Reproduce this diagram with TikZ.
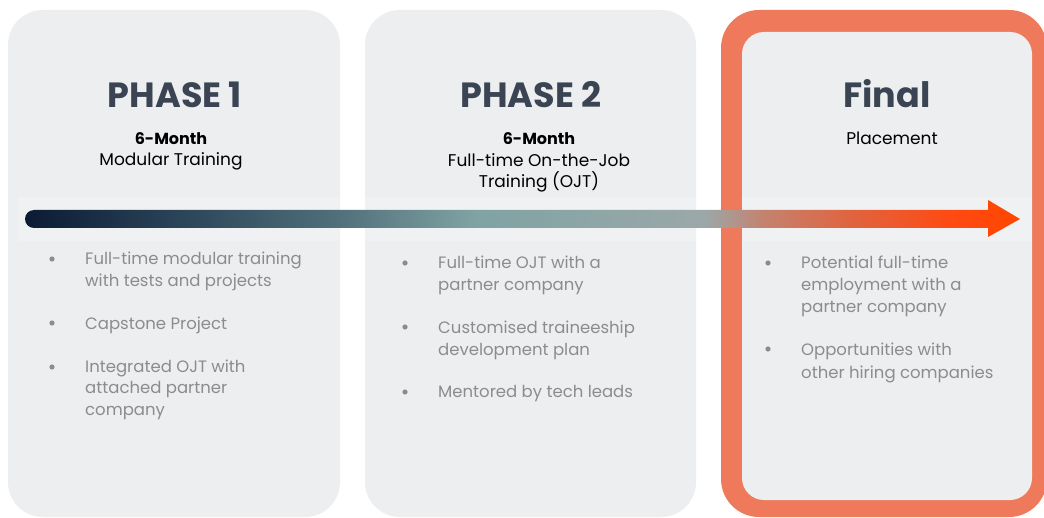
\documentclass[tikz,border=0pt]{standalone}
\usepackage{fontspec}
\setmainfont{Poppins}
\definecolor{panelgrey}{HTML}{EDEEF0}
\definecolor{orangeframe}{HTML}{EF7A5B}
\definecolor{titlecol}{HTML}{3A4452}
\definecolor{bulletgrey}{HTML}{8C8C8C}
\definecolor{a0}{HTML}{0B1B33}
\definecolor{a1}{HTML}{2A4458}
\definecolor{a2}{HTML}{4F6F7A}
\definecolor{a3}{HTML}{7FA3A3}
\definecolor{a4}{HTML}{9BA8A9}
\definecolor{a5}{HTML}{C4826F}
\definecolor{a6}{HTML}{E0643F}
\definecolor{a7}{HTML}{FF4A12}
\definecolor{a8}{HTML}{FF4500}
\pgfdeclarehorizontalshading{arrowshade}{100bp}{color(0bp)=(a0); color(25bp)=(a0); color(32.7bp)=(a1); color(40.6bp)=(a2); color(47.6bp)=(a3); color(59.1bp)=(a4); color(62.1bp)=(a5); color(66.5bp)=(a6); color(71.5bp)=(a7); color(75bp)=(a8); color(100bp)=(a8)}
\tikzset{
  panel/.style={fill=panelgrey, rounded corners=35pt},
  titletext/.style={font=\fontsize{35}{40}\selectfont\bfseries, text=titlecol, inner sep=0pt, anchor=base},
  subbold/.style={font=\fontsize{16}{21.5}\selectfont\bfseries, text=black, inner sep=0pt, anchor=base},
  subtext/.style={font=\fontsize{17}{21.5}\selectfont, text=black, inner sep=0pt, anchor=base},
  bul/.style={font=\fontsize{16.5}{21.5}\selectfont, text=bulletgrey, inner sep=0pt, anchor=base west},
  dot/.style={fill=bulletgrey},
  band/.style={fill=white, opacity=0.2}
}
\begin{document}
\begin{tikzpicture}[x=1pt,y=-1pt]
\useasboundingbox (0,0) rectangle (1044,518);
\fill[white] (0,0) rectangle (1044,518);
\begin{scope}
\clip (0,0) rectangle (1044,518);
% panels
\fill[panel] (8,10) rectangle (340,517);
\fill[panel] (365,10) rectangle (696,517);
\fill[orangeframe, rounded corners=38pt] (721,10) rectangle (1047,517);
\fill[panelgrey, rounded corners=22pt] (742,32) rectangle (1032,500);
% faint band behind arrow
\fill[band] (18,197) rectangle (340,241);
\fill[band] (365,197) rectangle (696,241);
\fill[band] (742,197) rectangle (1032,241);
% arrow
\shade[shading=arrowshade] (34,228) arc[start angle=90, end angle=270, radius=9] -- (988,210) -- (988,200) -- (1020,219) -- (988,237) -- (988,228) -- cycle;
\end{scope}
% titles
\node[titletext] (t1) at (175,108) {PHASE 1};
\node[titletext] (t2) at (531,108) {PHASE 2};
\node[titletext] (t3) at (887,108) {Final};
\node[subbold] (m1) at (171,145) {6-Month};
\node[subtext] (s1) at (171,166) {Modular Training};
\node[subbold] (m2) at (539,145) {6-Month};
\node[subtext] (s2a) at (539,167) {Full-time On-the-Job};
\node[subtext] (s2b) at (539,188) {Training (OJT)};
\node[subtext] (s3) at (892,145) {Placement};
% bullets panel 1
\fill[dot] (52,259) circle (2.6);
\fill[dot] (52,323) circle (2.6);
\fill[dot] (52,367) circle (2.6);
\node[bul] (b11a) at (85,265) {Full-time modular training};
\node[bul] (b11b) at (85,287) {with tests and projects};
\node[bul] (b12) at (85,330) {Capstone Project};
\node[bul] (b13a) at (85,373) {Integrated OJT with};
\node[bul] (b13b) at (85,394) {attached partner};
\node[bul] (b13c) at (85,415) {company};
% bullets panel 2
\fill[dot] (405,263) circle (2.6);
\fill[dot] (405,327) circle (2.6);
\fill[dot] (405,392) circle (2.6);
\node[bul] (b21a) at (438,269) {Full-time OJT with a};
\node[bul] (b21b) at (438,291) {partner company};
\node[bul] (b22a) at (438,334) {Customised traineeship};
\node[bul] (b22b) at (438,356) {development plan};
\node[bul] (b23) at (438,398) {Mentored by tech leads};
% bullets panel 3
\fill[dot] (768,263) circle (2.6);
\fill[dot] (768,349) circle (2.6);
\node[bul] (b31a) at (801,269) {Potential full-time};
\node[bul] (b31b) at (801,291) {employment with a};
\node[bul] (b31c) at (801,313) {partner company};
\node[bul] (b32a) at (801,356) {Opportunities with};
\node[bul] (b32b) at (801,378) {other hiring companies};
\end{tikzpicture}
\end{document}
